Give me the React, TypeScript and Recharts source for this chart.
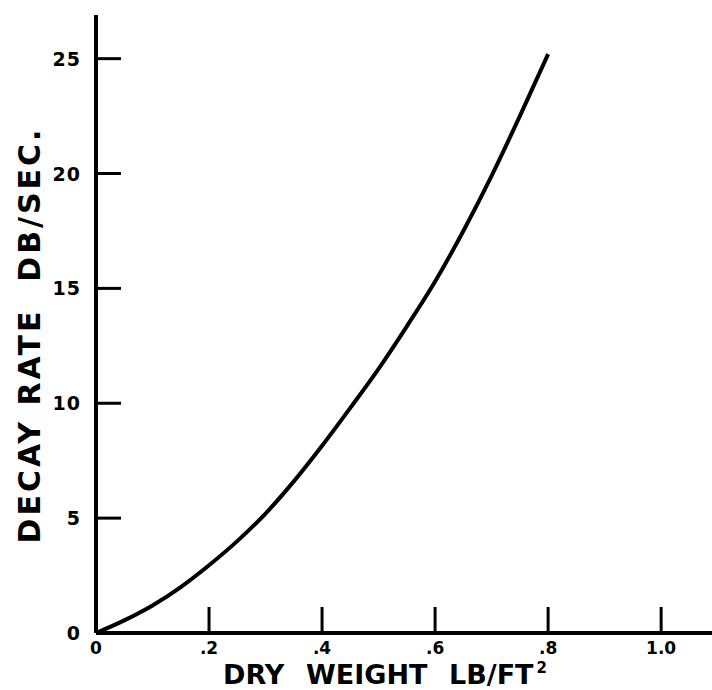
import React from 'react';
import { LineChart, Line, XAxis, YAxis, Label } from 'recharts';

// dry weight (lb/ft^2) and decay rate (dB/sec)
const weights = [0, 0.05, 0.1, 0.15, 0.2, 0.25, 0.3, 0.35, 0.4, 0.45, 0.5, 0.55, 0.6, 0.65, 0.7, 0.75, 0.8];
const decayRates = [0, 0.55, 1.2, 2.0, 2.95, 4.0, 5.2, 6.6, 8.15, 9.8, 11.5, 13.35, 15.3, 17.5, 19.9, 22.5, 25.2];

const xTicks = [0, 0.2, 0.4, 0.6, 0.8, 1.0];
const yTicks = [0, 5, 10, 15, 20, 25];
const xTickLabels = ['0', '.2', '.4', '.6', '.8', '1.0'];

const FONT = '"DejaVu Sans", sans-serif';

const chartData = weights.map((w, i) => ({ w, rate: decayRates[i] }));

const XTick = (props: any) => {
  const { x, y, payload, index } = props;
  return (
    <g>
      {payload.value !== 0 && (
        <line x1={x} x2={x} y1={y} y2={y - 26} stroke="#000" strokeWidth={3} />
      )}
      <text x={x} y={y + 21} textAnchor="middle" fontFamily={FONT} fontWeight="bold" fontSize={17} fill="#000">
        {xTickLabels[index] ?? String(payload.value)}
      </text>
    </g>
  );
};

const YTick = (props: any) => {
  const { x, y, payload } = props;
  return (
    <g>
      {payload.value !== 0 && (
        <line x1={x} x2={x + 25} y1={y} y2={y} stroke="#000" strokeWidth={3} />
      )}
      <text x={x - 15} y={y + 7} textAnchor="end" fontFamily={FONT} fontWeight="bold" fontSize={19} letterSpacing={1} fill="#000">
        {payload.value}
      </text>
    </g>
  );
};

export default function App() {
  return (
    <div style={{ position: 'absolute', left: 0, top: 0, background: '#fff' }}>
      <LineChart width={712} height={690} data={chartData} margin={{ top: 15, right: 0, bottom: 0, left: 0 }}>
        <XAxis
          dataKey="w"
          type="number"
          domain={[0, 1.09]}
          ticks={xTicks}
          tickSize={0}
          tickMargin={0}
          tickLine={false}
          tick={<XTick />}
          height={57}
          axisLine={{ stroke: '#000', strokeWidth: 4 }}
          interval={0}
        >
          <Label
            content={() => (
              <text y={684} fontFamily={FONT} fontWeight="bold" fontSize={27} fill="#000">
                <tspan x={223}>DRY</tspan>
                <tspan x={306}>WEIGHT</tspan>
                <tspan x={449}>LB/FT</tspan>
                <tspan dx={3} fontSize={15} dy={-11}>2</tspan>
              </text>
            )}
          />
        </XAxis>
        <YAxis
          type="number"
          domain={[0, 26.9]}
          ticks={yTicks}
          tickSize={0}
          tickMargin={0}
          tickLine={false}
          tick={<YTick />}
          width={96}
          axisLine={{ stroke: '#000', strokeWidth: 4 }}
          interval={0}
        >
          <Label
            content={() => (
              <text
                x={0}
                y={0}
                transform="translate(40, 335) rotate(-90)"
                textAnchor="middle"
                fontFamily={FONT}
                fontWeight="bold"
                fontSize={30}
                letterSpacing={3}
                fill="#000"
                style={{ whiteSpace: 'pre' }}
              >
                DECAY RATE  DB/SEC.
              </text>
            )}
          />
        </YAxis>
        <Line
          type="monotone"
          dataKey="rate"
          stroke="#000"
          strokeWidth={4}
          dot={false}
          isAnimationActive={false}
        />
      </LineChart>
    </div>
  );
}
